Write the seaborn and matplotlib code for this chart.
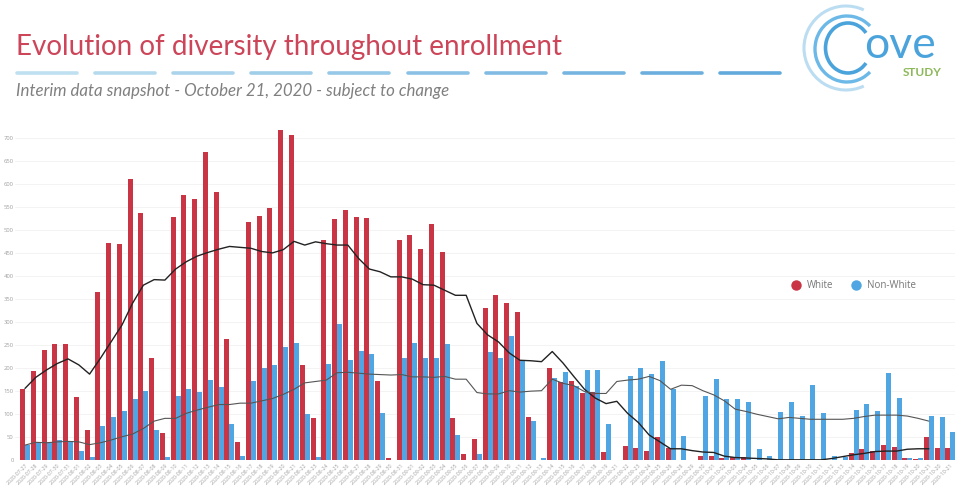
import numpy as np
import pandas as pd
import matplotlib
matplotlib.use("Agg")
import matplotlib.pyplot as plt
import seaborn as sns
from matplotlib.lines import Line2D
from matplotlib.patches import Arc

dates = ["07-27", "07-28", "07-29", "07-30", "07-31", "08-01", "08-02", "08-03", "08-04", "08-05",
         "08-06", "08-07", "08-08", "08-09", "08-10", "08-11", "08-12", "08-13", "08-14", "08-15",
         "08-16", "08-17", "08-18", "08-19", "08-20", "08-21", "08-22", "08-23", "08-24", "08-25",
         "08-26", "08-27", "08-28", "08-29", "08-30", "08-31", "09-01", "09-02", "09-03", "09-04",
         "09-05", "09-06", "09-07", "09-08", "09-09", "09-10", "09-11", "09-12", "09-13", "09-14",
         "09-15", "09-16", "09-17", "09-18", "09-19", "09-21", "09-22", "09-23", "09-24", "09-25",
         "09-26", "09-28", "09-29", "09-30", "10-01", "10-02", "10-03", "10-04", "10-05", "10-06",
         "10-07", "10-08", "10-09", "10-10", "10-11", "10-12", "10-13", "10-14", "10-15", "10-16",
         "10-17", "10-18", "10-19", "10-20", "10-21", "10-20", "10-21"]
white = [155, 194, 240, 252, 252, 137, 65, 365, 471, 470,
         611, 536, 223, 60, 527, 576, 568, 669, 582, 264,
         40, 518, 530, 547, 716, 706, 207, 91, 477, 523,
         544, 527, 525, 173, 6, 479, 488, 458, 513, 453,
         91, 13, 47, 330, 358, 342, 321, 94, 0, 200,
         169, 172, 145, 148, 18, 0, 32, 26, 21, 51,
         27, 0, 0, 10, 9, 4, 7, 7, 0, 0,
         0, 0, 0, 0, 0, 0, 0, 16, 24, 21,
         33, 28, 5, 2, 50, 27, 26]
non_white = [33, 40, 40, 44, 41, 21, 8, 75, 93, 106,
             134, 151, 66, 7, 140, 154, 148, 174, 160, 79,
             9, 171, 200, 206, 245, 255, 101, 7, 208, 296,
             218, 238, 231, 102, 0, 221, 254, 221, 223, 252,
             54, 1, 14, 235, 223, 270, 218, 85, 4, 178,
             192, 162, 197, 196, 79, 0, 183, 200, 187, 215,
             155, 52, 0, 140, 176, 132, 133, 127, 24, 9,
             104, 127, 96, 163, 103, 9, 8, 110, 122, 108,
             189, 136, 4, 4, 96, 94, 61]
white_avg = [156, 180, 196, 210, 220, 207, 187, 221, 257, 293,
             341, 380, 392, 391, 415, 431, 443, 451, 458, 464,
             462, 460, 453, 450, 457, 475, 467, 474, 470, 467,
             467, 438, 415, 409, 398, 398, 393, 381, 380, 369,
             358, 358, 297, 272, 257, 233, 217, 216, 214, 236,
             211, 182, 154, 135, 123, 128, 102, 82, 55, 40,
             25, 25, 21, 18, 17, 9, 6, 5, 4, 3,
             1, 1, 1, 1, 1, 4, 8, 12, 15, 19,
             20, 20, 24, 25, 25]
non_white_avg = [33, 39, 38, 40, 41, 40, 34, 38, 44, 51,
                 57, 69, 85, 91, 91, 102, 109, 115, 121, 121,
                 124, 124, 129, 134, 143, 154, 168, 171, 174, 190,
                 191, 189, 187, 186, 185, 186, 181, 181, 180, 182,
                 176, 176, 147, 144, 144, 151, 148, 150, 151, 176,
                 167, 162, 149, 145, 145, 171, 174, 176, 182, 173,
                 154, 163, 162, 151, 142, 129, 111, 106, 100, 95,
                 90, 93, 91, 89, 89, 89, 89, 91, 95, 98,
                 98, 98, 96, 91, 85]

RED = "#C93545"
BLUE = "#4FA6E2"

positions = np.arange(len(dates))
df = pd.DataFrame({"pos": positions, "White": white, "Non-White": non_white})
df = df.melt(id_vars="pos", var_name="group", value_name="count")

sns.set_theme(style="white")
plt.rcParams["font.family"] = ["Open Sans", "DejaVu Sans"]

W, H = 960, 488
fig = plt.figure(figsize=(W / 100, H / 100), dpi=100)

# axes box in pixels: left 15, right 955, zero line at 460.3
ax = fig.add_axes([15 / W, 1 - 460.3 / H, 940 / W, 345 / H])
sns.barplot(data=df, x="pos", y="count", hue="group", palette=[RED, BLUE],
            width=0.93, gap=0, saturation=1, linewidth=0, legend=False, ax=ax)
sns.lineplot(x=positions[:len(white_avg)], y=white_avg, color="#222222", lw=1.0, ax=ax)
sns.lineplot(x=positions[:len(non_white_avg)], y=non_white_avg, color="#555555", lw=0.8, ax=ax)

ax.set_xlim(-0.93, 86.43)
ax.set_ylim(0, 345 / 0.4609)
ax.set_yticks(np.arange(0, 701, 50))
ax.set_xticks(positions)
ax.set_xticklabels(["2020-" + d for d in dates], rotation=45, ha="right",
                   rotation_mode="anchor", fontsize=3.8, color="#A0A0A0")
ax.tick_params(axis="y", labelsize=4.2, labelcolor="#A0A0A0", length=0, pad=1)
ax.tick_params(axis="x", length=0, pad=2)
ax.set_xlabel("")
ax.set_ylabel("")
ax.grid(axis="y", color="#F3F3F3", lw=0.7)
ax.set_axisbelow(True)
sns.despine(ax=ax, left=True, bottom=True)

handles = [Line2D([], [], marker="o", ls="", ms=6.5, color=RED, label="White"),
           Line2D([], [], marker="o", ls="", ms=6.5, color=BLUE, label="Non-White")]
leg = fig.legend(handles=handles, ncol=2, frameon=False, fontsize=7, labelcolor="#777777",
                 loc="center left", bbox_to_anchor=(778 / W, 1 - 286 / H),
                 handletextpad=0.1, columnspacing=1.3)

# header drawn on a pixel-sized overlay
top = fig.add_axes([0, 0, 1, 1], facecolor="none")
top.set_xlim(0, W)
top.set_ylim(H, 0)
top.axis("off")

top.text(16, 47, "Evolution of diversity throughout enrollment", fontsize=20,
         family="Lato", color="#CC4559", va="center", ha="left")
top.text(16, 91, "Interim data snapshot - October 21, 2020 - subject to change", fontsize=12.2,
         family="Lato", style="italic", color="#808080", va="center", ha="left")

dash_colors = sns.blend_palette(["#BFE0F0", "#62A9DC"], 10)
for i, c in enumerate(dash_colors):
    x0 = 17 + i * 78.1
    top.plot([x0, x0 + 60], [73, 73], color=c, lw=2.6, solid_capstyle="round")

# logo
top.add_patch(Arc((848, 48), 45, 50, theta1=40, theta2=320, color="#4BA3DC", lw=2.6))
top.add_patch(Arc((847, 49), 64, 66, theta1=45, theta2=315, color="#6CB9E8", lw=2.4))
top.add_patch(Arc((846, 48), 84, 84, theta1=65, theta2=295, color="#BBDDF2", lw=2.2))
top.text(864, 46, "ove", fontsize=32, family="Lato", color="#4BA3DC", va="center", ha="left")
top.text(942, 72, "STUDY", fontsize=8.5, family="Lato", weight="bold", color="#8DB85A",
         va="center", ha="right")

fig.savefig("out.png", dpi=100)
